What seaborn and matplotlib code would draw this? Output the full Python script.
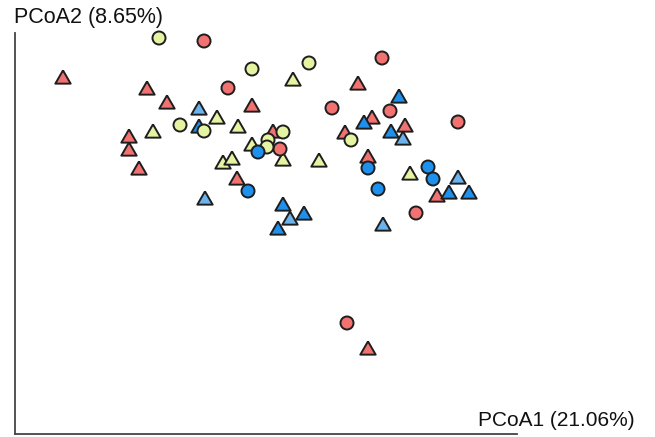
import matplotlib
matplotlib.use("Agg")
import matplotlib.pyplot as plt
import seaborn as sns
import pandas as pd

# PCoA coordinates (arbitrary linear units)
red_tri_x = [48, 132, 152, 237, 114, 114, 124, 222, 258, 343, 357, 390, 330, 353, 422, 353]
red_tri_y = [357, 346, 332, 329, 298, 285, 266, 256, 303, 351, 317, 309, 302, 278, 239, 86]
red_cir_x = [189, 213, 265, 367, 317, 375, 443, 401, 332]
red_cir_y = [393, 346, 285, 376, 326, 323, 312, 221, 111]
yel_cir_x = [144, 237, 294, 165, 189, 268, 253, 252, 336]
yel_cir_y = [396, 365, 371, 309, 303, 302, 294, 287, 294]
yel_tri_x = [278, 202, 223, 138, 237, 208, 217, 268, 304, 395]
yel_tri_y = [355, 317, 308, 303, 290, 272, 276, 275, 274, 261]
blu_tri_x = [184, 384, 349, 376, 434, 454, 268, 289, 263]
blu_tri_y = [308, 338, 312, 303, 242, 242, 230, 221, 206]
lbl_tri_x = [184, 388, 443, 368, 190, 275]
lbl_tri_y = [326, 296, 257, 210, 236, 216]
blu_cir_x = [243, 233, 353, 363, 413, 418]
blu_cir_y = [282, 243, 266, 245, 267, 255]

groups = ["A", "B", "C", "D"]
palette = {"A": "#F27171", "B": "#E5F4A2", "C": "#1E90EE", "D": "#6CB3EC"}
x_label = "PCoA1 (21.06%)"
y_label = "PCoA2 (8.65%)"

frames = []
for g, shape, xs, ys in [
    ("A", "triangle", red_tri_x, red_tri_y),
    ("A", "circle", red_cir_x, red_cir_y),
    ("B", "circle", yel_cir_x, yel_cir_y),
    ("B", "triangle", yel_tri_x, yel_tri_y),
    ("C", "triangle", blu_tri_x, blu_tri_y),
    ("D", "triangle", lbl_tri_x, lbl_tri_y),
    ("C", "circle", blu_cir_x, blu_cir_y),
]:
    frames.append(pd.DataFrame({"PC1": xs, "PC2": ys, "group": g, "shape": shape}))
df = pd.concat(frames, ignore_index=True)

sns.set_style("white")
plt.rcParams["font.family"] = ["Liberation Sans", "DejaVu Sans"]

fig = plt.figure(figsize=(6.55, 4.37), dpi=100)
ax = fig.add_axes([15 / 655, 3 / 437, 502 / 655, 401 / 437])

tri = [(0, 0.866), (-1, -0.866), (1, -0.866), (0, 0.866)]
sns.scatterplot(data=df[df["shape"] == "triangle"], x="PC1", y="PC2", hue="group",
                palette=palette, marker=tri, s=122, edgecolor="#1E1E1E",
                linewidth=1.4, legend=False, ax=ax, zorder=3, clip_on=False)
sns.scatterplot(data=df[df["shape"] == "circle"], x="PC1", y="PC2", hue="group",
                palette=palette, marker="o", s=88, edgecolor="#1E1E1E",
                linewidth=1.4, legend=False, ax=ax, zorder=3, clip_on=False)

ax.set_xlim(0, 502)
ax.set_ylim(0, 401)
ax.set_xticks([])
ax.set_yticks([])
ax.set_xlabel("")
ax.set_ylabel("")
for side in ["top", "right"]:
    ax.spines[side].set_visible(False)
for side in ["left", "bottom"]:
    ax.spines[side].set_color("#444444")
    ax.spines[side].set_linewidth(1.3)

fig.text(14 / 655, 1 - 17 / 437, y_label, ha="left", va="center", fontsize=15.5, color="#111111")
fig.text(635 / 655, 1 - 420 / 437, x_label, ha="right", va="center", fontsize=15, color="#111111")

fig.savefig("out.png", dpi=100)
